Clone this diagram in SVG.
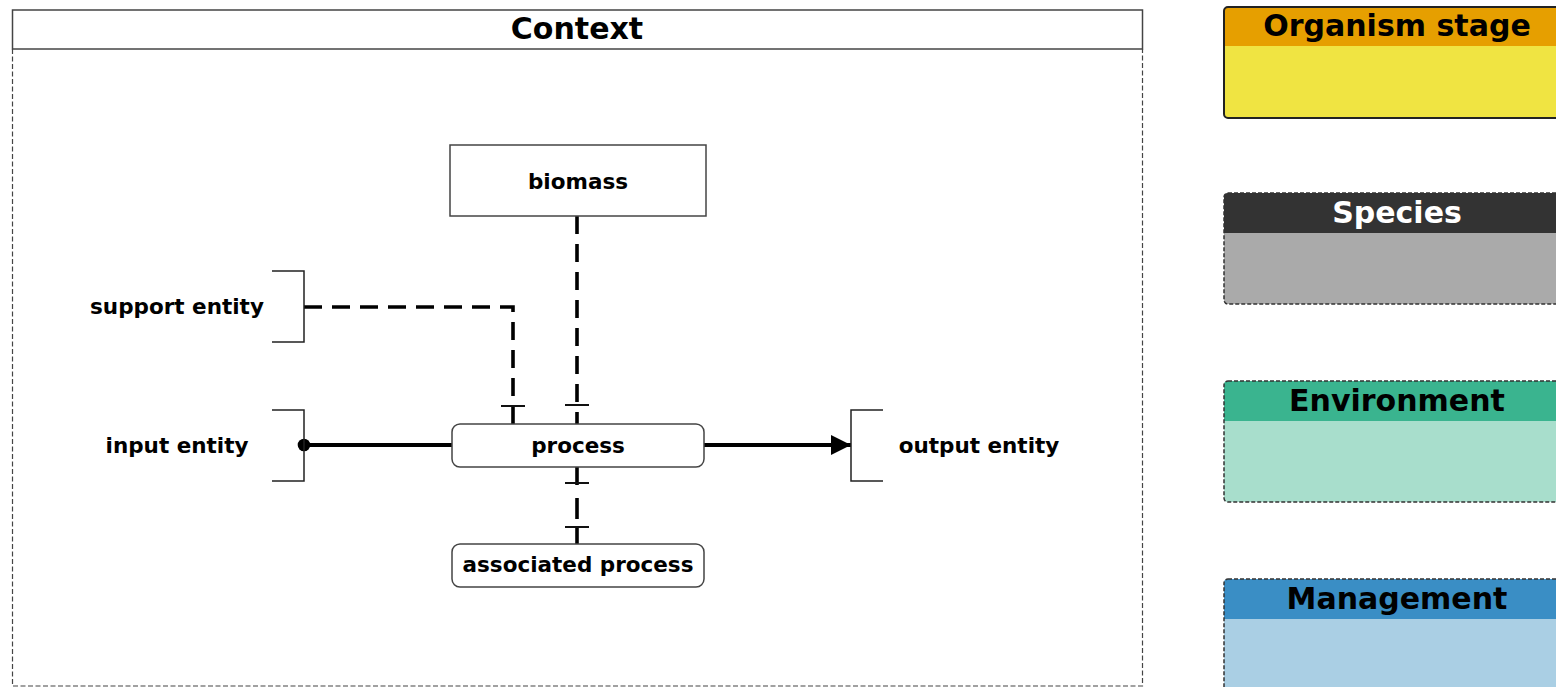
<svg xmlns="http://www.w3.org/2000/svg" width="1556" height="687" viewBox="0 0 1556 687">
  <defs>
    <style>
      text { font-family: "DejaVu Sans", "Liberation Sans", sans-serif; font-weight: bold; text-anchor: middle; fill: #000; }
      .label { font-size: 21.5px; }
      .title { font-size: 30px; }
      .node { fill: #fff; stroke: #444; stroke-width: 1.5; }
      .bracket { fill: none; stroke: #222; stroke-width: 1.5; }
      .dep { fill: none; stroke: #000; stroke-width: 3.6; stroke-dasharray: 18 10; }
      .tick { fill: none; stroke: #111; stroke-width: 2; }
      .flow { fill: none; stroke: #000; stroke-width: 4; }
      .panel-border { fill: none; stroke: #333; stroke-width: 1.5; stroke-dasharray: 4 2; }
    </style>
    <marker id="arrow" viewBox="0 0 20 20" refX="20" refY="10" markerWidth="20" markerHeight="20" markerUnits="userSpaceOnUse" orient="auto">
      <path d="M0,0 L20,10 L0,20 Z" fill="#000"/>
    </marker>
    <marker id="dot" viewBox="0 0 14 14" refX="7" refY="7" markerWidth="14" markerHeight="14" markerUnits="userSpaceOnUse">
      <circle cx="7" cy="7" r="6.3" fill="#000"/>
    </marker>
  </defs>

  <rect width="1556" height="687" fill="#fff"/>

  <!-- Context frame -->
  <g id="context">
    <path d="M12.5,49 V686 H1142.5 V49" fill="none" stroke="#444" stroke-width="1.2" stroke-dasharray="5 2.5"/>
    <rect x="12.5" y="10" width="1130" height="39" fill="#fff" stroke="#444" stroke-width="1.5"/>
    <text class="title" x="577" y="39">Context</text>
  </g>

  <!-- Legend panels -->
  <g id="organism-stage">
    <rect x="1224" y="7" width="346" height="111" rx="4" fill="#F0E442"/>
    <path d="M1228,7 H1570 V46 H1224 V11 A4,4 0 0 1 1228,7 Z" fill="#E69F00"/>
    <rect x="1224" y="7" width="346" height="111" rx="4" fill="none" stroke="#222" stroke-width="2"/>
    <text class="title" x="1397" y="36">Organism stage</text>
  </g>
  <g id="species">
    <rect x="1224" y="193" width="346" height="111" rx="4" fill="#AAAAAA"/>
    <path d="M1228,193 H1570 V233 H1224 V197 A4,4 0 0 1 1228,193 Z" fill="#333333"/>
    <rect class="panel-border" x="1224" y="193" width="346" height="111" rx="4"/>
    <text class="title" x="1397" y="223" style="fill:#fff">Species</text>
  </g>
  <g id="environment">
    <rect x="1224" y="381" width="346" height="121" rx="4" fill="#A8DECC"/>
    <path d="M1228,381 H1570 V421 H1224 V385 A4,4 0 0 1 1228,381 Z" fill="#3AB48F"/>
    <rect class="panel-border" x="1224" y="381" width="346" height="121" rx="4"/>
    <text class="title" x="1397" y="411">Environment</text>
  </g>
  <g id="management">
    <rect x="1224" y="579" width="346" height="130" rx="4" fill="#AACFE4"/>
    <path d="M1228,579 H1570 V619 H1224 V583 A4,4 0 0 1 1228,579 Z" fill="#3A8EC5"/>
    <rect class="panel-border" x="1224" y="579" width="346" height="130" rx="4"/>
    <text class="title" x="1397" y="609">Management</text>
  </g>

  <!-- Connectors -->
  <g id="connectors">
    <!-- support entity to process -->
    <path class="dep" d="M304,307 H513 V424"/>
    <path class="tick" d="M501,406 H525"/>
    <!-- biomass to process -->
    <path class="dep" d="M577,216 V424"/>
    <path class="tick" d="M565,405 H589"/>
    <!-- process to associated process -->
    <path class="dep" d="M577,467 V544" style="stroke-dasharray:none"/>
    <rect x="570" y="485" width="14" height="13" fill="#fff"/>
    <rect x="570" y="519" width="14" height="7" fill="#fff"/>
    <path class="tick" d="M565,483 H589 M565,527 H589"/>
    <!-- input entity to process -->
    <path class="flow" d="M304,445 H452" marker-start="url(#dot)"/>
    <!-- process to output entity -->
    <path class="flow" d="M704,445 H851" marker-end="url(#arrow)"/>
  </g>

  <!-- Nodes -->
  <g id="biomass">
    <rect class="node" x="450" y="145" width="256" height="71"/>
    <text class="label" x="578" y="189">biomass</text>
  </g>
  <g id="process">
    <rect class="node" x="452" y="424" width="252" height="43" rx="8"/>
    <text class="label" x="578" y="453">process</text>
  </g>
  <g id="associated-process">
    <rect class="node" x="452" y="544" width="252" height="43" rx="8"/>
    <text class="label" x="578" y="572">associated process</text>
  </g>
  <g id="support-entity">
    <path class="bracket" d="M272,271 H304 V342 H272"/>
    <text class="label" x="177" y="314">support entity</text>
  </g>
  <g id="input-entity">
    <path class="bracket" d="M272,410 H304 V481 H272"/>
    <text class="label" x="177" y="453">input entity</text>
  </g>
  <g id="output-entity">
    <path class="bracket" d="M883,410 H851 V481 H883"/>
    <text class="label" x="979" y="453">output entity</text>
  </g>
</svg>
